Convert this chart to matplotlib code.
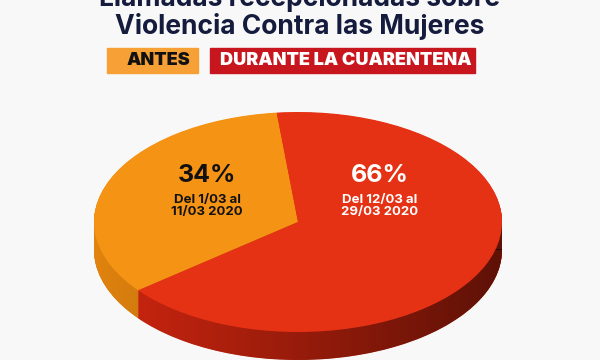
import numpy as np
import matplotlib.pyplot as plt
from matplotlib.patches import Ellipse, Rectangle

# ---------------------------------------------------------------
# DATA
# ---------------------------------------------------------------
labels = ["ANTES", "DURANTE LA CUARENTENA"]
shares = [34, 66]
pct_text = ["34%", "66%"]
periods = ["Del 1/03 al\n11/03 2020", "Del 12/03 al\n29/03 2020"]

top_colors = ["#f59314", "#e63214"]
side_colors = ["#e0830f", "#d0260f"]
legend_colors = ["#f7a035", "#c8161e"]

FONT = ["Inter", "DejaVu Sans"]
NAVY = "#141b3c"

fig = plt.figure(figsize=(6, 3.6), dpi=100)
fig.patch.set_facecolor("#f8f8f8")

# ---------------------------------------------------------------
# TITLE + LEGEND BOXES (pixel coords -> figure coords)
# ---------------------------------------------------------------
def fy(py):
    return 1 - py / 360.0

fig.text(0.5, fy(6), "Llamadas recepcionadas sobre", ha="center", va="baseline",
         fontsize=19, fontweight="bold", color=NAVY, family=FONT)
fig.text(0.5, fy(34), "Violencia Contra las Mujeres", ha="center", va="baseline",
         fontsize=19, fontweight="bold", color=NAVY, family=FONT)

boxes = [(107, 198), (210, 475)]
for (x0, x1), lab, col in zip(boxes, labels, legend_colors):
    fig.patches.append(Rectangle((x0 / 600, fy(73)), (x1 - x0) / 600, 25 / 360,
                                 transform=fig.transFigure, color=col, zorder=1))
tc = ["#111111", "white"]
tx = [158, 346]
for lab, c, x in zip(labels, tc, tx):
    fig.text(x / 600, fy(60.5), lab, ha="center", va="center", fontsize=13,
             fontweight=900, color=c, family=FONT)

# ---------------------------------------------------------------
# PSEUDO 3D PIE
# ---------------------------------------------------------------
ax = fig.add_axes([94 / 600, 0, 408 / 600, 248 / 360])
ax.axis("off")

depth = 0.2545
start = 96

# side: stacked pies
for t in np.linspace(depth, 0.005, 60):
    w, _ = ax.pie(shares, colors=side_colors, startangle=start, counterclock=True,
                  center=(0, -t), radius=1, wedgeprops=dict(linewidth=0))
    for p in w:
        p.set_zorder(1)

# darkening towards the right of the side
grad = np.zeros((2, 256, 4))
grad[..., 3] = np.linspace(0.0, 0.55, 256)[None, :]
im1 = ax.imshow(grad, extent=(-1, 1, -depth, 0), aspect="auto", zorder=2,
                interpolation="bilinear")
im2 = ax.imshow(grad, extent=(-1, 1, -1 - depth, -depth), aspect="auto", zorder=2,
                interpolation="bilinear")
clip = Ellipse((0, -depth), 2, 2, transform=ax.transData)
im2.set_clip_path(clip)

# top face
w, _ = ax.pie(shares, colors=top_colors, startangle=start, counterclock=True,
              center=(0, 0), radius=1, wedgeprops=dict(linewidth=0))
for p in w:
    p.set_zorder(3)

ax.set_xlim(-1, 1)
ax.set_ylim(-1.2545, 1)
ax.set_aspect("auto")

# labels
lx = [-0.446, 0.402]
txt_col = ["#111111", "white"]
for x, p, per, c in zip(lx, pct_text, periods, txt_col):
    ax.text(x, 0.427, p, ha="center", va="center", fontsize=18, fontweight="bold",
            color=c, family=FONT, zorder=5)
    ax.text(x, 0.141, per, ha="center", va="center", fontsize=9.5, fontweight="bold",
            color=c, family=FONT, linespacing=1.0, zorder=5)

plt.savefig("out.png", dpi=100, facecolor=fig.get_facecolor())
